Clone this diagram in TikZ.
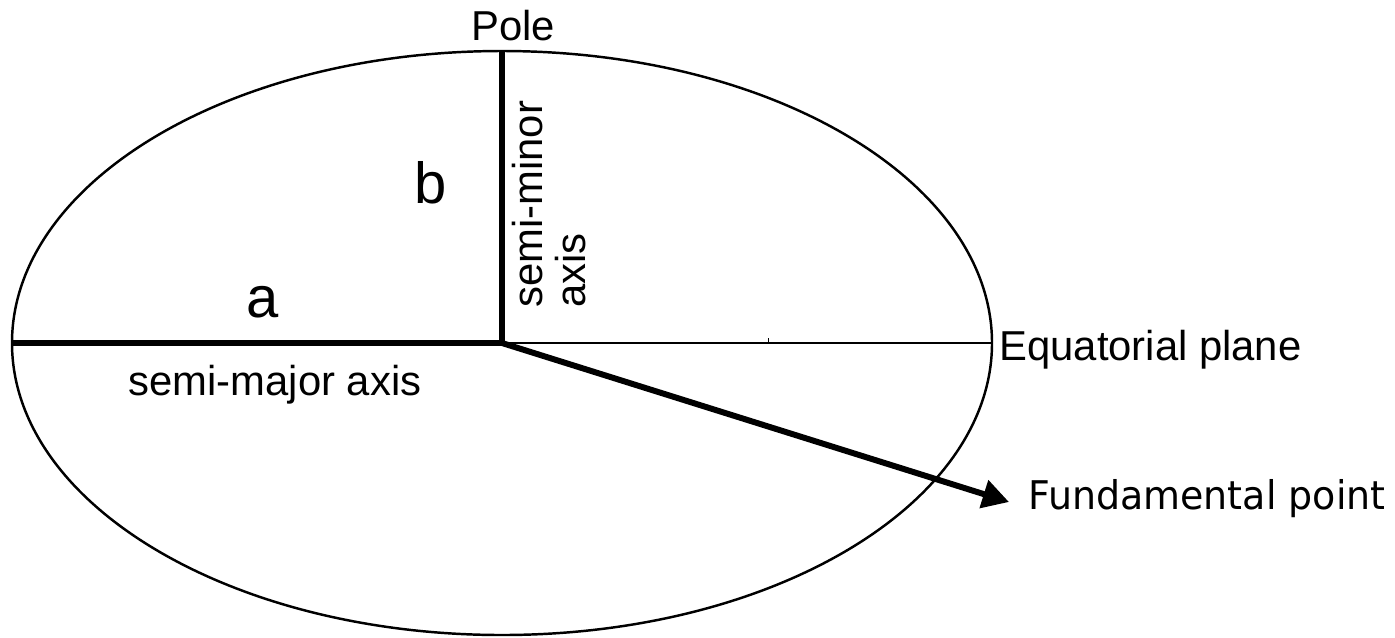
\documentclass[tikz,border=0pt]{standalone}
\usepackage{fontspec}
\setmainfont{Liberation Sans}
\newfontfamily\fundfont[FakeStretch=0.96]{DejaVu Sans}
\usepackage{tikz}
\usetikzlibrary{arrows.meta}

\begin{document}
\begin{tikzpicture}[
        x=0.02cm, y=-0.02cm,
        lbl/.style    = {inner sep=0pt, font=\fontsize{23.8}{24.4}\selectfont},
        letter/.style = {inner sep=0pt, font=\fontsize{33}{34}\selectfont},
        thickline/.style = {line width=3.4pt},
        thinline/.style  = {line width=1.6pt},
        arrow/.style  = {-{Triangle[length=15pt, width=16pt]}, line width=3.4pt},
    ]
        \useasboundingbox (0,0) rectangle (1395,637);
        % ellipse and axes
        \coordinate (ctr)  at (502,343);
        \coordinate (pole) at (502,51);
        \coordinate (west) at (12,343);
        \coordinate (east) at (992,343);
        \coordinate (fund) at (1009,502);
        \draw[line width=1.4pt] (ctr) ellipse [x radius=490, y radius=292];
        \draw[thinline] (ctr) -- (east);
        \draw[thickline] (west) -- (ctr);
        \draw[thickline] (ctr) -- (pole);
        \draw[arrow] (ctr) -- (fund);
        \coordinate (tick) at (768,338);
        \draw[line width=0.5pt] (tick) -- ++(0,5);
        % labels
        \node[lbl, anchor=base] (polelbl) at (513,40) {Pole};
        \node[letter, anchor=base] (blbl) at (431,203) {b};
        \node[letter, anchor=base] (albl) at (263,317) {a};
        \node[lbl, anchor=base] (majlbl) at (275,395) {semi-major axis};
        \node[lbl, anchor=base west, rotate=90, align=left] (minlbl) at (585,308) {semi-minor\\axis};
        \node[lbl, anchor=base west] (eqlbl) at (999,360) {Equatorial plane};
        \node[inner sep=0pt, anchor=base west, font=\fundfont\fontsize{22.5}{23}\selectfont] (fundlbl) at (1028,509) {Fundamental point};
    \end{tikzpicture}
\end{document}
